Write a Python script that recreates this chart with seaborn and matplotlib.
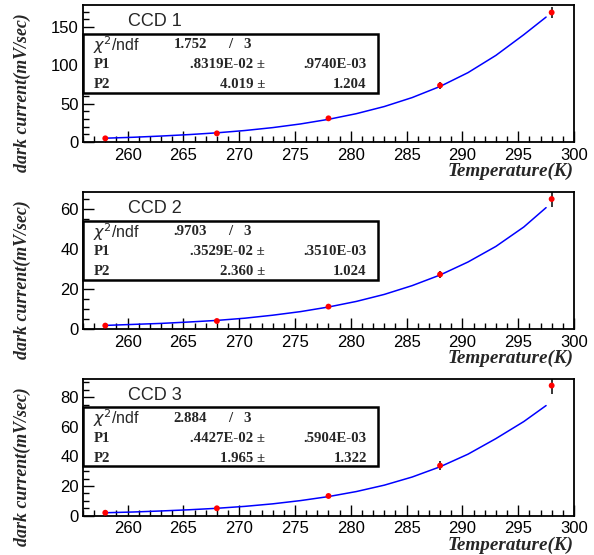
import matplotlib
matplotlib.use("Agg")
import matplotlib.pyplot as plt
import seaborn as sns
import pandas as pd
from matplotlib.ticker import MultipleLocator
from matplotlib.patches import Rectangle

# ---- data ----
temps = [258, 268, 278, 288, 298]
ccd1 = [4.8, 11.3, 30.9, 73.9, 169.0]
err1 = [0.6, 0.8, 1.2, 4.5, 7.5]
ccd2 = [1.7, 4.0, 11.2, 27.3, 65.0]
err2 = [0.3, 0.4, 0.6, 1.8, 3.8]
ccd3 = [2.0, 5.0, 13.3, 33.8, 87.8]
err3 = [0.4, 0.5, 0.8, 3.0, 6.0]

fit_t = [258, 260.5, 263, 265.5, 268, 270.5, 273, 275.5, 278, 280.5, 283,
         285.5, 288, 290.5, 293, 295.5, 297.5]
fit1 = [5.0, 6.2, 7.8, 9.7, 12.0, 15.0, 18.8, 23.6, 29.6, 37.0, 46.3,
        58.0, 72.5, 90.5, 113.0, 140.0, 163.0]
fit2 = [1.8, 2.3, 2.8, 3.5, 4.3, 5.4, 6.9, 8.7, 11.0, 13.8, 17.3,
        21.7, 27.0, 33.5, 41.3, 51.0, 60.7]
fit3 = [2.0, 2.5, 3.2, 4.0, 5.0, 6.3, 8.0, 10.2, 12.9, 16.3, 20.6,
        26.1, 33.0, 41.5, 52.0, 63.5, 74.3]

titles = ["CCD 1", "CCD 2", "CCD 3"]
chi2 = ["1.752", ".9703", "2.884"]
ndf = ["3", "3", "3"]
p1 = [".8319E-02", ".3529E-02", ".4427E-02"]
p1err = [".9740E-03", ".3510E-03", ".5904E-03"]
p2 = ["4.019", "2.360", "1.965"]
p2err = ["1.204", "1.024", "1.322"]
ylims = [178.7, 68.5, 92.4]
ymajor = [50, 20, 20]
yminor = [10, 5, 5]
xlabel = "Temperature(K)"
ylabel = "dark current(mV/sec)"

sns.set_style("ticks")
plt.rcParams["font.family"] = ["Liberation Sans", "DejaVu Sans"]
plt.rcParams["mathtext.fontset"] = "dejavusans"

fig = plt.figure(figsize=(5.94, 5.55), dpi=100)
bottoms = [0.7441, 0.4072, 0.0708]
serif = "Liberation Serif"

for i, (vals, errs, fit) in enumerate([(ccd1, err1, fit1), (ccd2, err2, fit2), (ccd3, err3, fit3)]):
    ax = fig.add_axes([0.1397, bottoms[i], 0.8266, 0.2468])
    fdf = pd.DataFrame({"T": fit_t, "y": fit})
    ddf = pd.DataFrame({"T": temps, "y": vals})
    sns.lineplot(data=fdf, x="T", y="y", ax=ax, color="#0000ff", lw=1.1, zorder=2)
    ax.errorbar(temps, vals, yerr=errs, fmt="none", ecolor="black", elinewidth=1.1, capsize=0, zorder=3)
    sns.scatterplot(data=ddf, x="T", y="y", ax=ax, color="#ff0000", s=18, edgecolor="none", zorder=4)
    ax.set_xlim(256, 300)
    ax.set_ylim(0, ylims[i])
    ax.xaxis.set_major_locator(MultipleLocator(5))
    ax.xaxis.set_minor_locator(MultipleLocator(1))
    ax.yaxis.set_major_locator(MultipleLocator(ymajor[i]))
    ax.yaxis.set_minor_locator(MultipleLocator(yminor[i]))
    ax.tick_params(which="both", direction="in", top=False, right=False, labelsize=12, width=1.0, colors="black")
    ax.tick_params(which="major", length=8)
    ax.tick_params(which="minor", length=4)
    ax.tick_params(axis="x", pad=4)
    ax.tick_params(axis="y", pad=3)
    for s in ax.spines.values():
        s.set_linewidth(1.3)
        s.set_color("black")
    ax.set_xlabel(xlabel, fontsize=13.8, fontweight="bold", fontstyle="italic", family=serif)
    ax.xaxis.label.set_ha("right")
    ax.xaxis.label.set_va("center")
    ax.xaxis.set_label_coords(1.0, -0.217)
    ax.set_ylabel(ylabel, fontsize=12.9, fontweight="bold", fontstyle="italic", family=serif)
    ax.yaxis.set_label_coords(-0.106, 0.36)

    ax.text(0.092, 0.878, titles[i], transform=ax.transAxes, fontsize=13, va="center", ha="left")
    ax.add_patch(Rectangle((0.0, 0.36), 0.60, 0.43, transform=ax.transAxes, fill=True,
                           facecolor="white", edgecolor="black", lw=1.8, zorder=5, clip_on=False))
    kw = dict(transform=ax.transAxes, va="center", zorder=6, fontsize=10.7, fontweight="bold", family=serif)
    ax.text(0.02, 0.71, r"$\chi^{2}$/ndf", transform=ax.transAxes, va="center", zorder=6, fontsize=11.5)
    ax.text(0.253, 0.71, chi2[i], ha="right", **kw)
    ax.text(0.30, 0.71, "/", ha="center", **kw)
    ax.text(0.334, 0.71, ndf[i], ha="center", **kw)
    ax.text(0.021, 0.565, "P1", ha="left", **kw)
    ax.text(0.371, 0.565, p1[i] + " \u00b1", ha="right", **kw)
    ax.text(0.578, 0.565, p1err[i], ha="right", **kw)
    ax.text(0.021, 0.42, "P2", ha="left", **kw)
    ax.text(0.371, 0.42, p2[i] + " \u00b1", ha="right", **kw)
    ax.text(0.578, 0.42, p2err[i], ha="right", **kw)

fig.savefig("out.png", dpi=100)
